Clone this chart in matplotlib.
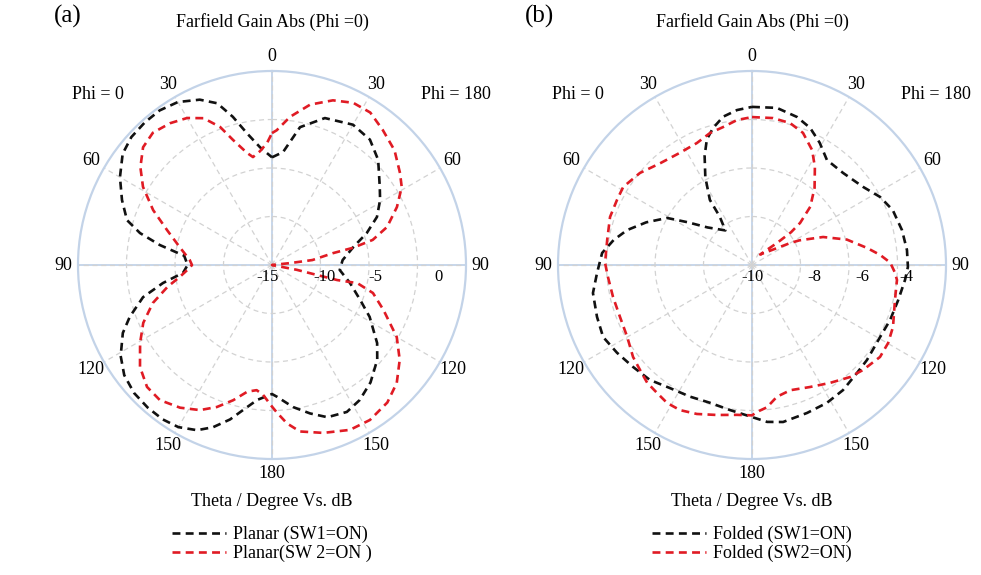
import numpy as np
import matplotlib
matplotlib.use("Agg")
import matplotlib.pyplot as plt

plt.rcParams['font.family'] = ['Liberation Serif', 'DejaVu Serif']

# ---------------- data (theta in degrees, gain in dB) ----------------
# Panel (a) Planar, SW1 = ON (black)
a_sw1_theta_phi180 = [0, 5.6, 11.5, 19.8, 30, 38, 45.3, 54.2, 59, 65.4, 71.4, 77.5, 86, 94.2,
                      103, 111.7, 118, 126.6, 132, 140, 147, 153, 160, 165.6, 171.6, 177.8, 180]
a_sw1_gain_phi180 = [-3.9, -3.3, -0.5, 1.1, 1.7, 1.4, 0.4, -1.3, -2.0, -3.1, -4.7, -6.4, -7.7, -8.0,
                     -6.75, -5.2, -3.6, -1.5, -0.4, 0.8, 1.6, 2.0, 1.7, 0.8, -0.2, -1.4, -1.7]
a_sw1_theta_phi0 = [0, 5.8, 10.7, 14.8, 18.7, 23.6, 30, 36, 41.7, 47.7, 53.3, 60, 66.6, 72.8, 76.4,
                    79.9, 84, 90, 95, 99.4, 104, 110, 114.5, 121, 126.7, 132.9, 138.9, 144.7, 150,
                    155.6, 160, 164.8, 168.7, 173.7, 180]
a_sw1_gain_phi0 = [-3.9, -2.8, -1.2, 0.8, 2.6, 3.6, 4.4, 4.7, 4.7, 4.6, 4.2, 3.1, 1.85, 0.65, -1.0,
                   -3.25, -5.9, -6.3, -5.8, -3.6, -1.3, 0.6, 1.9, 3.2, 4.0, 4.4, 4.5, 4.5, 4.3,
                   3.7, 2.8, 1.5, 0.25, -1.0, -1.7]

# Panel (a) Planar, SW2 = ON (red)
a_sw2_theta_phi180 = [0, 2, 7, 13.4, 20.3, 26.6, 32.8, 39.4, 46.9, 54.3, 59, 65.1, 71.7, 76, 78, 79,
                      83, 84, 90, 101, 102.5, 103, 102, 105.5, 112, 120, 126.6, 133.4, 140, 147.7,
                      154.7, 163, 170.5, 174.6, 178, 180]
a_sw2_gain_phi180 = [-1.4, -1.1, 0.4, 2.0, 3.1, 3.7, 3.7, 3.0, 2.3, 1.25, 0.6, -0.8, -2.5, -4.3,
                     -6.45, -8.6, -10.8, -13.1, -15.0, -12.4, -10.25, -8.1, -6.0, -4.2, -2.6, -0.15,
                     1.4, 2.7, 3.5, 3.9, 3.8, 3.1, 2.4, 1.4, 0.25, -0.4]
a_sw2_theta_phi0 = [0, 2.3, 6, 10, 12.6, 17.3, 20.6, 25, 30, 35.7, 42, 47.6, 53.4, 58.8, 65.2, 71.6,
                    79, 86.5, 90, 92, 97.4, 101.8, 107.7, 114.2, 120.6, 127.7, 134.3, 140.3, 147.2,
                    153.6, 158.8, 164, 169, 173, 176, 180]
a_sw2_gain_phi0 = [-1.4, -2.4, -3.2, -3.7, -3.15, -1.5, 0.2, 1.7, 2.5, 3.0, 3.35, 3.0, 1.9, 0.55,
                   -1.5, -3.6, -5.3, -6.5, -6.75, -6.5, -5.4, -4.0, -2.1, -0.45, 0.8, 2.2, 3.0, 3.1,
                   2.5, 1.7, 0.7, -0.5, -1.7, -2.0, -1.6, -0.4]

# Panel (b) Folded, SW1 = ON (black)
b_sw1_theta_phi180 = [0, 9, 16.9, 23, 29, 35.5, 44.7, 54.9, 62, 68.7, 76.9, 84.5, 90.7, 95.6, 103.5,
                      111.7, 119.4, 129.6, 135.8, 144, 151.5, 159.6, 168.8, 174.5, 180]
b_sw1_gain_phi180 = [-3.48, -3.44, -3.62, -3.86, -4.24, -4.68, -4.66, -4.4, -4.02, -3.77, -3.65,
                     -3.58, -3.57, -3.66, -3.8, -3.87, -3.94, -3.85, -3.79, -3.62, -3.53, -3.49,
                     -3.4, -3.5, -3.73]
b_sw1_theta_phi0 = [0, 5.5, 11, 15.9, 19.8, 23.5, 28, 32.9, 33.7, 37.6, 49.8, 56.5, 61, 68, 74.4,
                    79.8, 85.4, 93, 100, 108.5, 115.8, 123, 130.6, 138.4, 146.3, 154.8, 163, 171.4, 180]
b_sw1_gain_phi0 = [-3.48, -3.58, -3.77, -4.13, -4.5, -5.1, -5.9, -6.8, -7.6, -8.2, -7.6, -6.8, -6.0,
                   -5.3, -4.65, -4.2, -3.8, -3.6, -3.34, -3.26, -3.18, -3.36, -3.54, -3.66, -3.9,
                   -4.0, -4.06, -3.95, -3.73]

# Panel (b) Folded, SW2 = ON (red)
b_sw2_theta_phi180 = [0, 8.1, 15, 21.1, 27.6, 32.7, 39, 45, 48.8, 50, 48.7, 38, 60, 62.5, 68.5, 75,
                      81.6, 85.5, 89, 93, 95.9, 103.8, 113.7, 119.8, 125.7, 133.4, 138.8, 146.5,
                      154.6, 163, 169.3, 174, 178, 180]
b_sw2_gain_phi180 = [-3.9, -3.88, -3.94, -4.16, -4.65, -5.2, -5.9, -6.6, -7.36, -7.9, -8.6, -9.45,
                     -8.2, -7.8, -6.85, -5.95, -5.2, -4.7, -4.3, -4.1, -3.99, -3.93, -3.65, -3.53,
                     -3.5, -3.7, -3.86, -4.17, -4.43, -4.6, -4.47, -4.1, -3.94, -3.8]
b_sw2_theta_phi0 = [0, 5.9, 11.9, 17.7, 24.3, 32.7, 42, 50.6, 58.8, 64.3, 71.3, 80.2, 89.2, 94.8,
                    103, 111.5, 120, 127.7, 133.2, 138.3, 143.4, 148.4, 153.6, 159.7, 166.9, 174.3, 180]
b_sw2_gain_phi0 = [-3.9, -3.99, -4.19, -4.29, -4.48, -4.5, -4.35, -4.02, -3.79, -3.82, -3.82, -3.94,
                   -3.94, -4.04, -4.12, -4.15, -4.06, -3.8, -3.67, -3.5, -3.43, -3.32, -3.32, -3.45,
                   -3.65, -3.79, -3.8]

angle_tick_labels = ['0', '30', '60', '90', '120', '150', '180', '150', '120', '90', '60', '30']
a_rticks = [-15, -10, -5, 0]
a_rlim = (-15, 5)
b_rticks = [-10, -8, -6, -4]
b_rlim = (-10, -2)
a_labels = ['Planar (SW1=ON)', 'Planar(SW 2=ON )']
b_labels = ['Folded (SW1=ON)', 'Folded (SW2=ON)']

# ---------------- styling ----------------
W, H = 981, 575
BLACK = '#111111'
RED = '#e01b24'
BLUE = '#c3d3e8'
GRID = '#d2d2d2'
DASH = (0, (3.0, 2.0))
FS = 13
# horizontal pixel shift of each radial label relative to its ring
a_rlabel_shift = [-4, 4.5, 6, 21]
b_rlabel_shift = [0, 14, 13, 9]


def closed_curve(th180, g180, th0, g0):
    ang = list(th180) + [360 - t for t in reversed(th0)]
    gain = list(g180) + list(reversed(g0))
    ang.append(ang[0])
    gain.append(gain[0])
    return np.deg2rad(ang), np.array(gain)


def px(x, y):
    return x / W, 1 - y / H


fig = plt.figure(figsize=(W / 100, H / 100), dpi=100)

panels = [
    dict(cx=272, tag='(a)', tagx=68, rlim=a_rlim, rticks=a_rticks, shift=a_rlabel_shift,
         curves=[(a_sw1_theta_phi180, a_sw1_gain_phi180, a_sw1_theta_phi0, a_sw1_gain_phi0, BLACK),
                 (a_sw2_theta_phi180, a_sw2_gain_phi180, a_sw2_theta_phi0, a_sw2_gain_phi0, RED)],
         labels=a_labels),
    dict(cx=752, tag='(b)', tagx=540, rlim=b_rlim, rticks=b_rticks, shift=b_rlabel_shift,
         curves=[(b_sw1_theta_phi180, b_sw1_gain_phi180, b_sw1_theta_phi0, b_sw1_gain_phi0, BLACK),
                 (b_sw2_theta_phi180, b_sw2_gain_phi180, b_sw2_theta_phi0, b_sw2_gain_phi0, RED)],
         labels=b_labels),
]

R = 194
CY = 265
for p in panels:
    cx = p['cx']
    ax = fig.add_axes([(cx - R) / W, (H - CY - R) / H, 2 * R / W, 2 * R / H], projection='polar')
    ax.set_theta_zero_location('N')
    ax.set_theta_direction(-1)
    ax.set_ylim(*p['rlim'])
    ax.set_xticks(np.deg2rad(np.arange(0, 360, 30)))
    ax.set_xticklabels(angle_tick_labels, fontsize=FS)
    ax.tick_params(axis='x', pad=0)
    ax.set_yticks(p['rticks'][1:])
    ax.set_yticklabels([])
    ax.grid(True, color=GRID, linestyle=(0, (4, 3)), linewidth=0.9)
    ax.spines['polar'].set_color(BLUE)
    ax.spines['polar'].set_linewidth(1.6)
    for a in (0, 90, 180, 270):
        ax.axvline(np.deg2rad(a), color=BLUE, linewidth=1.3, zorder=1.5)

    handles = []
    for th180, g180, th0, g0, col in p['curves']:
        ang, gain = closed_curve(th180, g180, th0, g0)
        ln, = ax.plot(ang, gain, color=col, linewidth=1.9, linestyle=DASH, zorder=3)
        handles.append(ln)

    for v, s in zip(p['rticks'], p['shift']):
        ax.annotate(str(v), xy=(np.pi / 2, v), xytext=(s * 0.72, -8.5), textcoords='offset points',
                    ha='center', va='center', fontsize=12, zorder=4)

    ax.legend(handles, p['labels'], loc='upper center', bbox_to_anchor=(0.5, -0.139),
              frameon=False, fontsize=FS, handlelength=3.0, handletextpad=0.4,
              labelspacing=0.1, borderpad=0.2)

    fig.text(*px(cx, 22), 'Farfield Gain Abs (Phi =0)', ha='center', va='center', fontsize=FS)
    fig.text(*px(cx, 501), 'Theta / Degree Vs. dB', ha='center', va='center', fontsize=FS)
    fig.text(*px(cx - 174, 95), 'Phi = 0', ha='center', va='center', fontsize=FS)
    fig.text(*px(cx + 184, 95), 'Phi = 180', ha='center', va='center', fontsize=FS)
    fig.text(*px(p['tagx'], 16), p['tag'], ha='center', va='center', fontsize=18)

fig.savefig('out.png', dpi=100)
